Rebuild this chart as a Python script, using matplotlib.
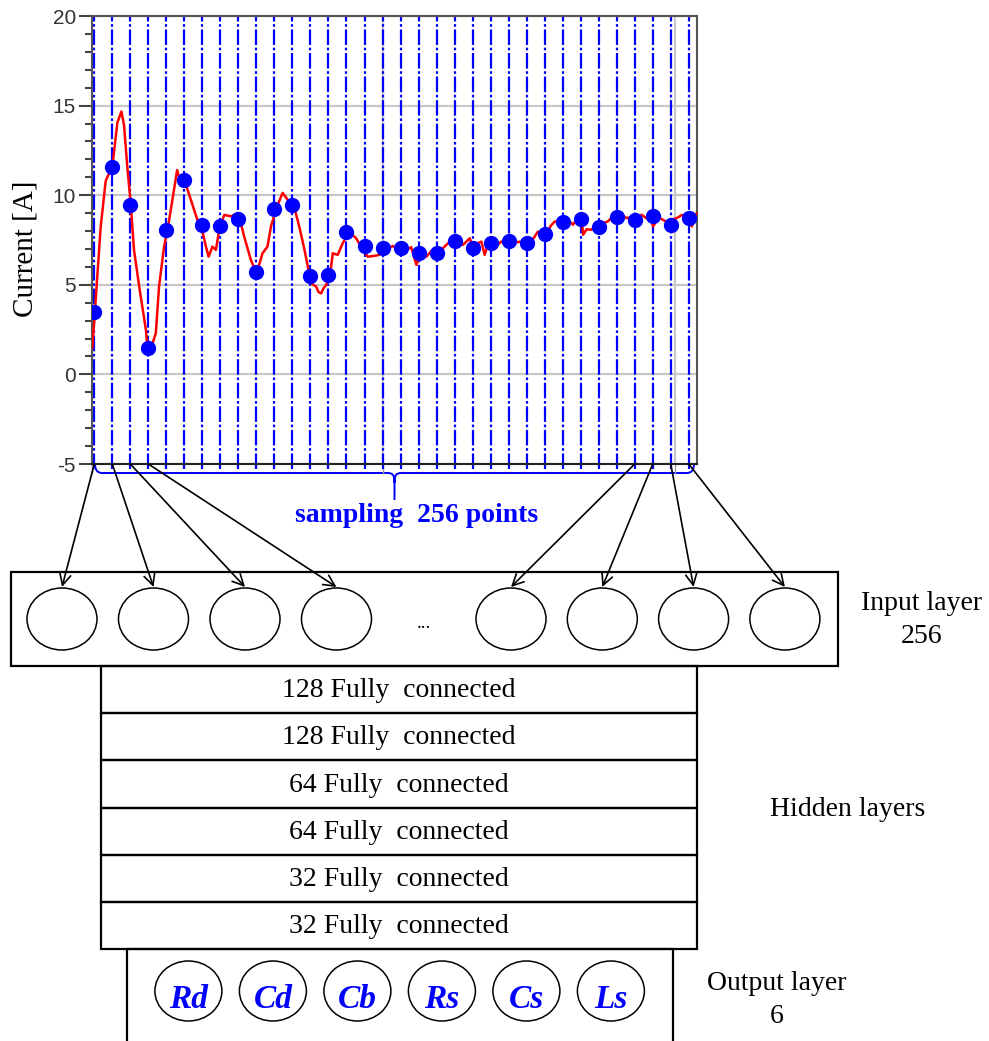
import numpy as np
import matplotlib.pyplot as plt
from matplotlib.patches import Rectangle, Ellipse, ConnectionPatch, PathPatch
from matplotlib.path import Path

plt.rcParams['font.family'] = ['Liberation Serif', 'DejaVu Serif']

# measured current waveform: time [ms], current [A]
wave_t = [0.001, 0.010, 0.018, 0.030, 0.047, 0.058, 0.070, 0.087, 0.101, 0.110,
          0.121, 0.133, 0.144, 0.162, 0.185, 0.190, 0.202, 0.219, 0.230, 0.247,
          0.259, 0.276, 0.292, 0.299, 0.316, 0.339, 0.362, 0.374, 0.391, 0.400,
          0.413, 0.425, 0.439, 0.454, 0.477, 0.502, 0.522, 0.545, 0.565, 0.585,
          0.602, 0.614, 0.635, 0.654, 0.671, 0.692, 0.711, 0.729, 0.743, 0.752,
          0.769, 0.777, 0.786, 0.794, 0.803, 0.817, 0.826, 0.843, 0.860, 0.883,
          0.906, 0.923, 0.946, 0.963, 0.986, 1.000, 1.014, 1.032, 1.048, 1.064,
          1.079, 1.095, 1.113, 1.126, 1.147, 1.165, 1.185, 1.204, 1.227, 1.247,
          1.273, 1.296, 1.307, 1.320, 1.336, 1.347, 1.357, 1.373, 1.388, 1.404,
          1.419, 1.439, 1.454, 1.467, 1.485, 1.502, 1.515, 1.530, 1.543, 1.559,
          1.574, 1.588, 1.605, 1.619, 1.632, 1.650, 1.667, 1.680, 1.685, 1.697,
          1.713, 1.728, 1.743, 1.756, 1.770, 1.787, 1.806, 1.818, 1.834, 1.856,
          1.869, 1.885, 1.904, 1.914, 1.925, 1.938, 1.948, 1.962, 1.979, 1.990,
          2.006, 2.024, 2.044, 2.058, 2.065, 2.075]
wave_i = [1.5, 3.5, 5.45, 8.26, 10.8, 11.2, 11.6, 14.05, 14.67, 13.9,
          11.6, 9.5, 6.95, 4.9, 2.47, 1.5, 1.46, 2.3, 4.9, 7.1,
          8.07, 9.75, 11.4, 11.0, 10.9, 9.75, 8.6, 8.33, 7.13, 6.57,
          7.13, 6.95, 8.3, 8.9, 8.82, 9.0, 7.7, 6.39, 5.64, 6.76,
          7.13, 8.26, 9.38, 10.13, 9.75, 9.43, 8.26, 6.95, 5.83, 5.08,
          4.9, 4.6, 4.52, 4.8, 4.99, 5.57, 6.76, 6.67, 7.32, 7.94,
          7.6, 7.13, 6.57, 6.6, 6.67, 7.04, 7.0, 7.17, 7.0, 7.08,
          6.95, 7.1, 6.11, 6.76, 6.57, 6.9, 6.76, 7.04, 7.41, 7.45,
          7.23, 7.6, 7.08, 7.3, 7.41, 6.67, 7.2, 7.36, 7.2, 7.41,
          7.3, 7.47, 7.35, 7.41, 7.25, 7.32, 7.6, 7.97, 7.7, 7.83,
          8.3, 8.54, 8.4, 8.5, 8.65, 8.35, 8.75, 8.69, 7.79, 8.1,
          8.07, 8.3, 8.2, 8.45, 8.54, 8.8, 8.76, 8.9, 8.72, 8.8,
          8.6, 8.91, 8.7, 8.85, 8.26, 8.6, 8.72, 8.6, 8.44, 8.65,
          8.72, 8.9, 8.72, 8.26, 8.8, 9.0]

# current read at the sampling instants shown
sample_i = [3.5, 11.6, 9.47, 1.46, 8.07, 10.84, 8.33, 8.3, 8.67, 5.7,
            9.25, 9.43, 5.51, 5.57, 7.94, 7.17, 7.04, 7.08, 6.76, 6.76,
            7.45, 7.08, 7.36, 7.47, 7.32, 7.83, 8.5, 8.69, 8.2, 8.76,
            8.59, 8.82, 8.35, 8.72]
sample_t0 = 0.0079
sample_dt = 0.0618
sample_t = sample_t0 + sample_dt * np.arange(len(sample_i))

hidden_units = [128, 128, 64, 64, 32, 32]
outputs = ['Rd', 'Cd', 'Cb', 'Rs', 'Cs', 'Ls']
n_inputs = 256
# samples wired to the input neurons that are drawn
linked = [0, 1, 2, 3, 30, 31, 32, 33]

BLUE = '#0000ff'
W, H = 989, 1041
fig = plt.figure(figsize=(W / 100, H / 100), dpi=100)

# full-figure axes in pixel units for the network sketch
net = fig.add_axes([0, 0, 1, 1])
net.set_xlim(0, W)
net.set_ylim(H, 0)
net.axis('off')

ax = fig.add_axes([92 / W, 1 - 464 / H, 605 / W, 448 / H])
ax.set_xlim(0, 2.0756)
ax.set_ylim(-5, 20)
major = list(range(-5, 21, 5))
ax.set_yticks(major)
ax.set_yticklabels([str(v) for v in major])
ax.set_yticks(range(-5, 21), minor=True)
ax.set_xticks([0, 1, 2])
ax.set_xticklabels([])
ax.grid(True, which='major', color='#c8c8c8', lw=1.6, zorder=0)
ax.set_axisbelow(True)
ax.tick_params(axis='y', which='major', length=9.5, width=1.5, color='#444444',
               labelsize=15, labelcolor='#333333', pad=2)
ax.tick_params(axis='y', which='minor', length=5, width=1.5, color='#444444')
ax.tick_params(axis='x', length=7, width=1, color='#999999')
for lbl in ax.get_yticklabels():
    lbl.set_family(['Liberation Sans Narrow', 'Liberation Sans'])
for s in ax.spines.values():
    s.set_linewidth(1.5)
    s.set_color('#555555')
ax.spines['bottom'].set_color('#222222')

ax.vlines(sample_t, -5.3, 20, colors=BLUE, lw=1.6,
          linestyles=(0, (7, 1.2, 1.2, 1.2)), clip_on=False, zorder=2)
ax.plot(wave_t, wave_i, color='#ff0000', lw=1.8, zorder=3)
ax.plot(sample_t, sample_i, 'o', color=BLUE, ms=10, zorder=4)

ax.set_ylabel('Current [A]', fontsize=21)
ax.yaxis.set_label_coords(-0.089, 0.48)

# brace under the sampled window
pos = ax.get_position()
xl, xr = pos.x0 * W, pos.x1 * W
yt = (1 - pos.y0) * H
yb, ytip = yt + 9, yt + 36
xm = (xl + xr) / 2
verts = [(xl + 3, yt), (xl + 3, yb), (xl + 10, yb), (xm - 7, yb),
         (xm - 1, yb), (xm, yb + 3), (xm, yb + 10), (xm, ytip),
         (xm, yb + 10), (xm, yb + 3), (xm + 1, yb), (xm + 7, yb),
         (xr - 10, yb), (xr - 3, yb), (xr - 3, yt)]
codes = [Path.MOVETO, Path.CURVE3, Path.CURVE3, Path.LINETO,
         Path.CURVE4, Path.CURVE4, Path.CURVE4, Path.LINETO,
         Path.MOVETO, Path.CURVE4, Path.CURVE4, Path.CURVE4,
         Path.LINETO, Path.CURVE3, Path.CURVE3]
net.add_patch(PathPatch(Path(verts, codes), fill=False, ec=BLUE, lw=1.4))
net.text(417, 516, f'sampling  {n_inputs} points', color=BLUE, fontsize=20,
         fontweight='bold', ha='center', va='center')

# input layer
net.add_patch(Rectangle((11, 572), 827, 94, fill=False, ec='black', lw=1.6))
in_x = [62 + 91.5 * k for k in range(4)] + [511 + 91.3 * k for k in range(4)]
for cx in in_x:
    net.add_patch(Ellipse((cx, 619), 70, 62, fill=False, ec='black', lw=1.1))
net.text(424, 624, '...', fontsize=14, ha='center', va='center')
net.text(922, 620, f'Input layer\n{n_inputs}', fontsize=20, ha='center',
         va='center', linespacing=1.4)

for si, cx in zip(linked, in_x):
    con = ConnectionPatch(xyA=(sample_t[si], -5), coordsA=ax.transData,
                          xyB=(cx, 587), coordsB=net.transData,
                          arrowstyle='->', mutation_scale=20, lw=1.2,
                          color='black')
    fig.add_artist(con)

# hidden layers
row_h = 47.2
for k, units in enumerate(hidden_units):
    y0 = 666 + k * row_h
    net.add_patch(Rectangle((101, y0), 596, row_h, fill=False, ec='black', lw=1.6))
    net.text(399, y0 + row_h / 2 + 1, f'{units} Fully  connected', fontsize=20,
             ha='center', va='center')
net.text(848, 810, 'Hidden layers', fontsize=20, ha='center', va='center')

# output layer
out_top = 666 + len(hidden_units) * row_h
net.add_patch(Rectangle((127, out_top), 546, 200, fill=False, ec='black', lw=1.6))
for k, name in enumerate(outputs):
    cx = 188.4 + 84.5 * k
    net.add_patch(Ellipse((cx, 991), 67, 60, fill=False, ec='black', lw=1.1))
    net.text(cx, 999, name, color=BLUE, fontsize=24, fontweight='bold',
             fontstyle='italic', ha='center', va='center')
net.text(777, 1000, f'Output layer\n{len(outputs)}', fontsize=20, ha='center',
         va='center', linespacing=1.4)

fig.savefig('out.png', dpi=100)
